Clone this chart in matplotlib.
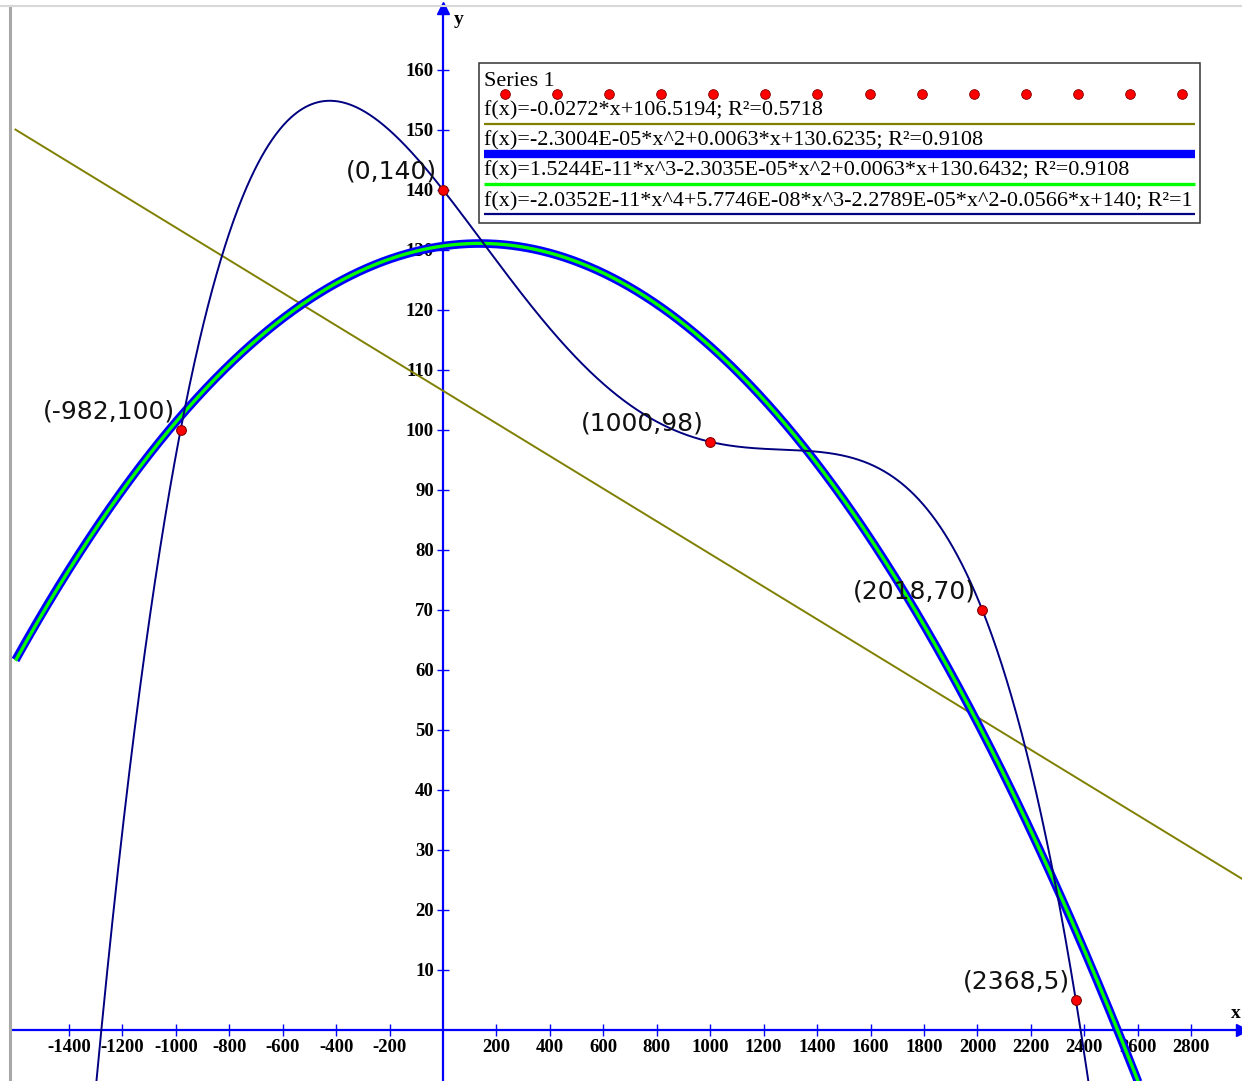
import numpy as np
import matplotlib
matplotlib.use('Agg')
import matplotlib.pyplot as plt
from matplotlib.lines import Line2D
from matplotlib.patches import Rectangle

plt.rcParams['axes.unicode_minus'] = False

# data points
pts_x = [-982, 0, 1000, 2018, 2368]
pts_y = [100, 140, 98, 70, 5]

# trend line coefficients (highest power first), as printed in the legend
lin_coef = [-0.0272, 106.5194]
quad_coef = [-2.3004e-05, 0.0063, 130.6235]
cub_coef = [1.5244e-11, -2.3035e-05, 0.0063, 130.6432]
quart_coef = [-2.0352e-11, 5.7746e-08, -2.2789e-05, -0.0566, 140]

fit_labels = [
    'f(x)=-0.0272*x+106.5194; R²=0.5718',
    'f(x)=-2.3004E-05*x^2+0.0063*x+130.6235; R²=0.9108',
    'f(x)=1.5244E-11*x^3-2.3035E-05*x^2+0.0063*x+130.6432; R²=0.9108',
    'f(x)=-2.0352E-11*x^4+5.7746E-08*x^3-2.2789E-05*x^2-0.0566*x+140; R²=1',
]

x_ticks = [-1400, -1200, -1000, -800, -600, -400, -200,
           200, 400, 600, 800, 1000, 1200, 1400, 1600, 1800, 2000,
           2200, 2400, 2600, 2800]
y_ticks = [10, 20, 30, 40, 50, 60, 70, 80, 90, 100, 110, 120, 130, 140, 150, 160]

W, H = 1242, 1081
fig = plt.figure(figsize=(W / 100, H / 100), dpi=100)
ax_l, ax_t = 12, 8
ax = fig.add_axes([ax_l / W, 0, (W - ax_l) / W, (H - ax_t) / H])


def px(x, y):
    # figure pixel -> axes fraction
    return (x - ax_l) / (W - ax_l), 1 - (y - ax_t) / (H - ax_t)


xs = np.linspace(-1600, 3000, 2000)
AXIS = '#0000ff'

ax.plot(xs, np.polyval(lin_coef, xs), color='#808000', lw=1.4, zorder=3)
ax.plot(xs, np.polyval(quad_coef, xs), color='#0000ff', lw=6.2, zorder=4,
        solid_capstyle='butt')
ax.plot(xs, np.polyval(cub_coef, xs), color='#00ff00', lw=2.4, zorder=5,
        solid_capstyle='butt')
ax.plot(xs, np.polyval(quart_coef, xs), color='#000080', lw=1.4, zorder=6)
ax.plot(pts_x, pts_y, 'o', color='#ff0000', mec='#800000', mew=0.8, ms=7,
        zorder=8, linestyle='none')

for x, y in zip(pts_x, pts_y):
    ax.annotate(f'({x},{y})', (x, y), xytext=(-6, 6), textcoords='offset pixels',
                ha='right', va='bottom', fontsize=18, family='DejaVu Sans',
                color='#111111', zorder=7)

ax.set_xlim(-1613, 2990)
ax.set_ylim(-8.5, 170.3)

for s in ['top', 'right']:
    ax.spines[s].set_visible(False)
ax.spines['left'].set_position(('data', 0))
ax.spines['bottom'].set_position(('data', 0))
for s in ['left', 'bottom']:
    ax.spines[s].set_color(AXIS)
    ax.spines[s].set_linewidth(1.6)
    ax.spines[s].set_zorder(2)

ax.set_xticks(x_ticks)
ax.set_yticks(y_ticks)
ax.tick_params(direction='inout', length=9, width=1, color=AXIS, pad=2,
               labelsize=13.5)
for lab in ax.get_xticklabels() + ax.get_yticklabels():
    lab.set_fontfamily('Liberation Serif')
    lab.set_fontweight('bold')

# axis arrows and names
ax.plot([0], [1], marker='^', ms=9, color=AXIS, transform=ax.get_xaxis_transform(),
        clip_on=False, zorder=9)
ax.plot([1], [0], marker='>', ms=9, color=AXIS, transform=ax.get_yaxis_transform(),
        clip_on=False, zorder=9)
ax.text(*px(459, 20), 'y', transform=ax.transAxes, ha='center', va='center',
        family='Liberation Serif', weight='bold', fontsize=14)
ax.text(*px(1236, 1014), 'x', transform=ax.transAxes, ha='center', va='center',
        family='Liberation Serif', weight='bold', fontsize=14)

# legend box drawn by hand (samples sit under each label)
lx0, ly0 = px(479, 223)
lx1, ly1 = px(1200, 63)
ax.add_patch(Rectangle((lx0, ly0), lx1 - lx0, ly1 - ly0, transform=ax.transAxes,
                       facecolor='white', edgecolor='#333333', lw=1.1, zorder=10))
tfont = dict(family='Liberation Serif', fontsize=15.9, color='black', zorder=11,
             transform=ax.transAxes, ha='left', va='center')
ax.text(*px(484, 81), 'Series 1', **tfont)
dot_x = np.linspace(505, 1182, 14)
dx = [px(v, 94)[0] for v in dot_x]
ax.add_line(Line2D(dx, [px(0, 94)[1]] * len(dx), transform=ax.transAxes,
                   linestyle='none', marker='o', ms=7, color='#ff0000',
                   mec='#800000', mew=0.6, zorder=11))

rows = [(111, 124, '#808000', 1.6), (141, 154, '#0000ff', 6.0),
        (171, 184, '#00ff00', 2.4), (202, 214, '#000080', 1.6)]
for lab, (ty, ly, c, w) in zip(fit_labels, rows):
    ax.text(*px(484, ty), lab, **tfont)
    a = px(484, ly)
    b = px(1195, ly)
    ax.add_line(Line2D([a[0], b[0]], [a[1], b[1]], transform=ax.transAxes,
                       color=c, lw=w, solid_capstyle='butt', zorder=11))

# window frame
fig.add_artist(Line2D([10 / W, 10 / W], [0, 1 - 6 / H], color='#a8a8a8', lw=2.2))
fig.add_artist(Line2D([0, 1], [1 - 6 / H, 1 - 6 / H], color='#d8d8d8', lw=1.5))

fig.savefig('out.png', dpi=100)
